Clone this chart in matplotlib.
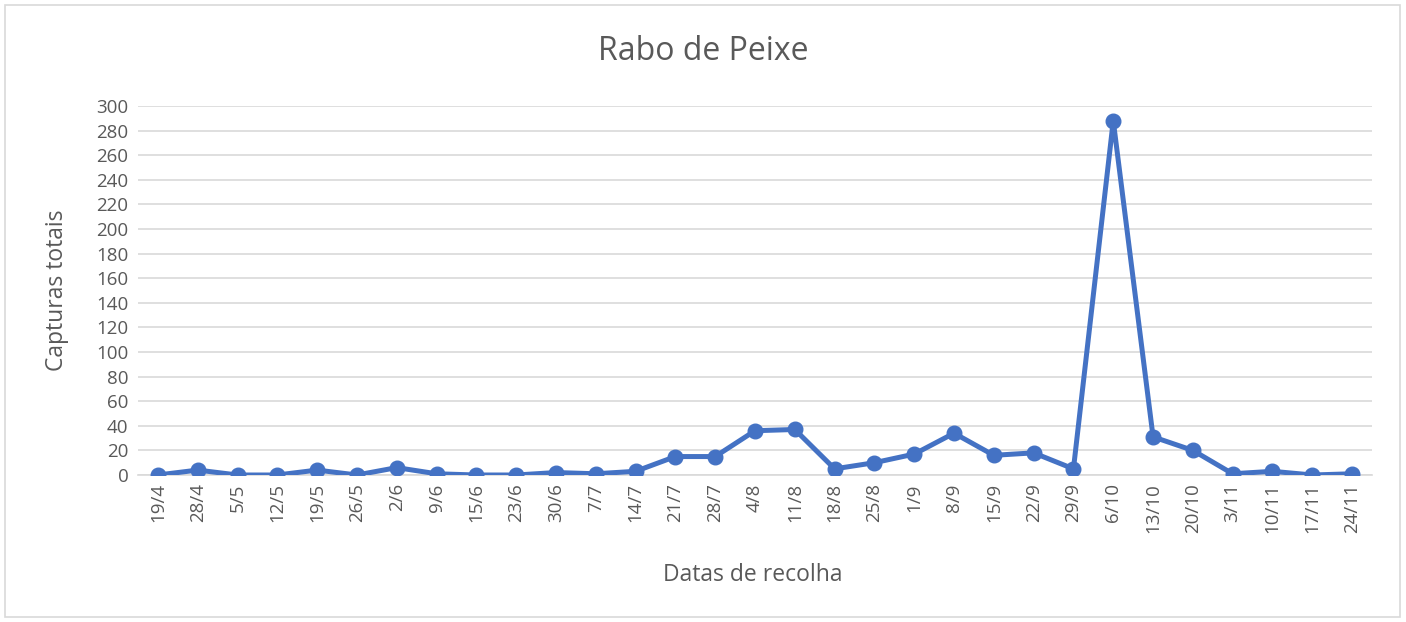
import numpy as np
import matplotlib
matplotlib.use("Agg")
import matplotlib.pyplot as plt
from matplotlib.patches import Rectangle

plt.rcParams['font.family'] = ['Open Sans', 'DejaVu Sans']

# dates of collection and total captures
datas = ['19/4', '28/4', '5/5', '12/5', '19/5', '26/5', '2/6', '9/6', '15/6', '23/6',
         '30/6', '7/7', '14/7', '21/7', '28/7', '4/8', '11/8', '18/8', '25/8', '1/9',
         '8/9', '15/9', '22/9', '29/9', '6/10', '13/10', '20/10', '3/11', '10/11',
         '17/11', '24/11']
capturas = [0, 4, 0, 0, 4, 0, 6, 1, 0, 0,
            2, 1, 3, 15, 15, 36, 37, 5, 10, 17,
            34, 16, 18, 5, 288, 31, 20, 1, 3,
            0, 1]
y_ticks = list(range(0, 301, 20))

txt_col = '#595959'
fig = plt.figure(figsize=(14.06, 6.22), dpi=100)
fig.patches.append(Rectangle((5/1406, 5/622), 1395/1406, 612/622, transform=fig.transFigure,
                             fill=False, edgecolor='#D9D9D9', linewidth=1.2))
ax = fig.add_axes([138/1406, 1 - 475/622, (1372-138)/1406, (475-106)/622])

x = np.arange(len(datas))
ax.plot(x, capturas, color='#4472C4', linewidth=3.6, marker='o', markersize=10.5, zorder=3)

ax.set_xlim(-0.5, len(datas) - 0.5)
ax.set_ylim(0, 300)
ax.set_yticks(y_ticks)
ax.set_xticks(x)
ax.set_xticklabels(datas, rotation=90)
ax.tick_params(axis='both', length=0, labelsize=13.5, colors=txt_col)
ax.tick_params(axis='y', pad=7)
ax.tick_params(axis='x', pad=6)
ax.grid(axis='y', color='#D9D9D9', linewidth=1.2)
ax.set_axisbelow(True)
for s in ['top', 'right', 'left']:
    ax.spines[s].set_visible(False)
ax.spines['bottom'].set_color('#D9D9D9')
ax.spines['bottom'].set_linewidth(1.2)

fig.text(703/1406, 1 - 52/622, 'Rabo de Peixe', ha='center', va='center', fontsize=23, color=txt_col)
fig.text(753/1406, 1 - 575/622, 'Datas de recolha', ha='center', va='center', fontsize=16.5, color=txt_col)
fig.text(57/1406, 1 - 290/622, 'Capturas totais', ha='center', va='center', rotation=90,
         fontsize=16.5, color=txt_col)

fig.savefig('out.png', dpi=100)
